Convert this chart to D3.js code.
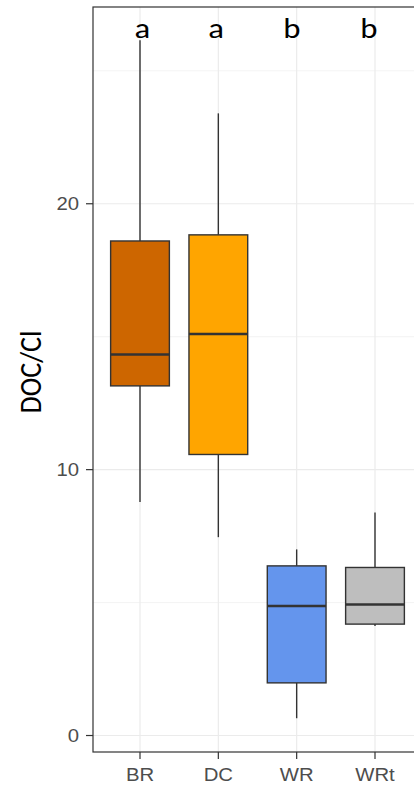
<!DOCTYPE html>
<html><head><meta charset="utf-8">
<script src="https://cdn.jsdelivr.net/npm/d3@7"></script>
<style>body{margin:0;background:#fff}svg{display:block}</style>
</head><body>
<script>
const categories = ["BR","DC","WR","WRt"];
const whiskerLow = [8.78, 7.46, 0.65, 4.12];
const q1 =        [13.15, 10.57, 1.98, 4.19];
const median =    [14.33, 15.10, 4.87, 4.93];
const q3 =        [18.60, 18.83, 6.38, 6.32];
const whiskerHigh=[26.15, 23.40, 7.00, 8.39];
const letters = ["a","a","b","b"];
const letterPos = [1.03, 1.97, 2.94, 3.92];   // annotation x in category units
const letterY = 26.25;
const colors = ["#CD6600","#FFA500","#6495ED","#BEBEBE"];
const yTicks = [0,10,20];
const yMinor = [5,15,25];
const yLabel = "DOC/Cl";

const W=414,H=789;
const svg=d3.select("body").append("svg").attr("width",W).attr("height",H);
const pL=93, pT=7, pB=752, pR=422;
const sx=1.13;
const y=d3.scaleLinear().domain([-0.62,27.4]).range([pB,pT]);
const x=d3.scalePoint().domain(categories).range([pL,pR]).padding(0.6);
const xn=d3.scaleLinear().domain([1,categories.length]).range([x(categories[0]),x(categories[categories.length-1])]);
const bw=x.step()*0.75;

const g=svg.append("g");
yMinor.forEach(v=>g.append("line").attr("x1",pL).attr("x2",pR).attr("y1",y(v)).attr("y2",y(v)).attr("stroke","#ebebeb").attr("stroke-width",0.6));
yTicks.forEach(v=>g.append("line").attr("x1",pL).attr("x2",pR).attr("y1",y(v)).attr("y2",y(v)).attr("stroke","#ebebeb").attr("stroke-width",1.2));
categories.forEach(c=>g.append("line").attr("x1",x(c)).attr("x2",x(c)).attr("y1",pT).attr("y2",pB).attr("stroke","#ebebeb").attr("stroke-width",1.2));

categories.forEach((c,i)=>{
  const cx=x(c);
  g.append("line").attr("x1",cx).attr("x2",cx).attr("y1",y(whiskerHigh[i])).attr("y2",y(q3[i])).attr("stroke","#333").attr("stroke-width",1.4);
  g.append("line").attr("x1",cx).attr("x2",cx).attr("y1",y(q1[i])).attr("y2",y(whiskerLow[i])).attr("stroke","#333").attr("stroke-width",1.4);
  g.append("rect").attr("x",cx-bw/2).attr("width",bw).attr("y",y(q3[i])).attr("height",y(q1[i])-y(q3[i]))
    .attr("fill",colors[i]).attr("stroke","#333").attr("stroke-width",1.4);
  g.append("line").attr("x1",cx-bw/2).attr("x2",cx+bw/2).attr("y1",y(median[i])).attr("y2",y(median[i])).attr("stroke","#333").attr("stroke-width",2.6);
  g.append("text").attr("transform",`translate(${xn(letterPos[i])},${y(letterY)}) scale(${sx},1)`).attr("text-anchor","middle").attr("font-family","Carlito, 'Open Sans', sans-serif").attr("font-size",29).attr("fill","#000").text(letters[i]);
});

g.append("rect").attr("x",pL).attr("y",pT).attr("width",pR-pL).attr("height",pB-pT).attr("fill","none").attr("stroke","#333").attr("stroke-width",1.2);

yTicks.forEach(v=>{
  g.append("line").attr("x1",pL-7).attr("x2",pL).attr("y1",y(v)).attr("y2",y(v)).attr("stroke","#333").attr("stroke-width",1.2);
  g.append("text").attr("transform",`translate(${pL-14},${y(v)}) scale(${sx},1)`).attr("dy","0.36em").attr("text-anchor","end").attr("font-family","'Liberation Sans', Arial, sans-serif").attr("font-size",18).attr("fill","#4d4d4d").text(v);
});
categories.forEach(c=>{
  g.append("line").attr("x1",x(c)).attr("x2",x(c)).attr("y1",pB).attr("y2",pB+7).attr("stroke","#333").attr("stroke-width",1.2);
  g.append("text").attr("transform",`translate(${x(c)},781) scale(${sx},1)`).attr("text-anchor","middle").attr("font-family","'Liberation Sans', Arial, sans-serif").attr("font-size",18).attr("fill","#4d4d4d").text(c);
});
g.append("text").attr("transform",`translate(41,372) scale(${sx},1) rotate(-90)`).attr("text-anchor","middle").attr("font-family","Carlito, 'Open Sans', sans-serif").attr("font-size",28).attr("fill","#000").text(yLabel);
</script>
</body></html>
